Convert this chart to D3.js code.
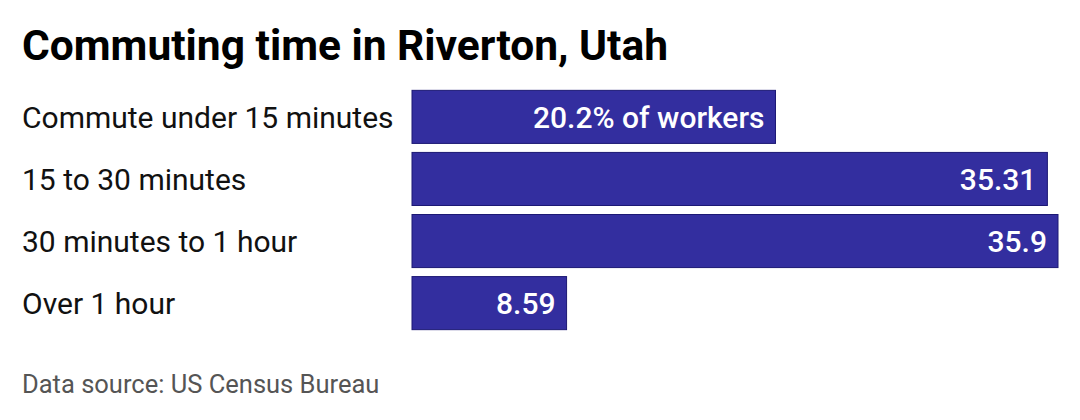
<!DOCTYPE html>
<html>
<head>
<meta charset="utf-8">
<script src="https://cdn.jsdelivr.net/npm/d3@7"></script>
<style>
  body { margin: 0; background: #fff; }
  svg { display: block; font-family: Roboto, 'Noto Sans', sans-serif; }
</style>
</head>
<body>
<div id="chart"></div>
<script>
const categories = ['Commute under 15 minutes', '15 to 30 minutes', '30 minutes to 1 hour', 'Over 1 hour'];
const values = [20.2, 35.31, 35.9, 8.59];
const valueLabels = ['20.2% of workers', '35.31', '35.9', '8.59'];

const svgWidth = 1080;
const svgHeight = 420;

const margin = {top: 86, right: 22, bottom: 90, left: 412};

const svg = d3.select('#chart')
                .append('svg')
                .attr('width', svgWidth)
                .attr('height', svgHeight);

// title
svg.append('text')
    .attr('x', 22)
    .attr('y', 60)
    .attr('font-size', 42.5)
    .attr('font-weight', 700)
    .attr('fill', '#000')
    .text('Commuting time in Riverton, Utah');

const x = d3.scaleLinear()
              .domain([0, 35.9])
              .range([margin.left, 1058]);

const y = d3.scaleBand()
              .domain(categories)
              .range([margin.top, margin.top + 4 * 62])
              .paddingInner(0.145)
              .paddingOuter(0.07);

const rows = svg.selectAll('g.row')
                 .data(categories)
                 .join('g')
                 .classed('row', true);

rows.append('text')
    .attr('x', 22)
    .attr('y', d => y(d) + y.bandwidth() / 2)
    .attr('dy', '0.36em')
    .attr('font-size', 30)
    .attr('fill', '#111')
    .text(d => d);

rows.append('rect')
    .attr('x', x(0))
    .attr('y', d => y(d))
    .attr('width', (d, i) => x(values[i]) - x(0))
    .attr('height', y.bandwidth())
    .attr('fill', '#332e9f')
    .attr('stroke', '#1c1874')
    .attr('stroke-width', 1);

rows.append('text')
    .attr('x', (d, i) => x(values[i]) - 11)
    .attr('y', d => y(d) + y.bandwidth() / 2)
    .attr('dy', '0.36em')
    .attr('text-anchor', 'end')
    .attr('font-size', 30)
    .attr('font-weight', 500)
    .attr('fill', '#fff')
    .text((d, i) => valueLabels[i]);

// source note
svg.append('text')
    .attr('x', 22)
    .attr('y', 393)
    .attr('font-size', 25.5)
    .attr('fill', '#555')
    .text('Data source: US Census Bureau');
</script>
</body>
</html>
